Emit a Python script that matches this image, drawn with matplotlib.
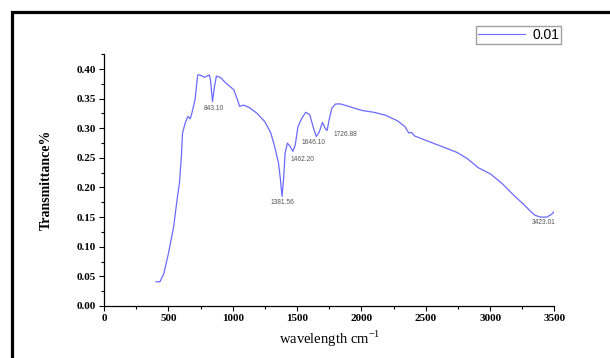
import matplotlib
matplotlib.use("Agg")
import matplotlib.pyplot as plt
from matplotlib.patches import Rectangle
from matplotlib.ticker import MultipleLocator

wavenumber = [405, 435, 465, 501, 541, 571, 586, 601, 610, 631, 652, 670, 682, 707, 728,
              743, 782, 818, 827, 843, 858, 873, 903, 948, 1009, 1054, 1084, 1129, 1190,
              1250, 1296, 1326, 1356, 1371, 1383, 1395, 1407, 1425, 1446, 1468, 1486, 1507,
              1537, 1567, 1598, 1628, 1649, 1673, 1697, 1718, 1733, 1749, 1770, 1800, 1839,
              1915, 2005, 2096, 2186, 2277, 2337, 2368, 2389, 2413, 2519, 2639, 2745, 2821,
              2911, 3002, 3092, 3183, 3258, 3304, 3349, 3394, 3440, 3479, 3500]
transmittance = [0.041, 0.041, 0.055, 0.089, 0.134, 0.185, 0.207, 0.252, 0.292, 0.309,
                 0.320, 0.316, 0.325, 0.348, 0.390, 0.390, 0.386, 0.390, 0.382, 0.345,
                 0.370, 0.388, 0.386, 0.376, 0.365, 0.337, 0.339, 0.335, 0.325, 0.311,
                 0.292, 0.269, 0.241, 0.213, 0.185, 0.213, 0.258, 0.275, 0.269, 0.261,
                 0.272, 0.303, 0.317, 0.327, 0.323, 0.300, 0.286, 0.294, 0.310, 0.300,
                 0.296, 0.314, 0.334, 0.341, 0.341, 0.336, 0.330, 0.327, 0.322, 0.313,
                 0.303, 0.292, 0.293, 0.287, 0.278, 0.268, 0.259, 0.249, 0.233, 0.223,
                 0.207, 0.187, 0.172, 0.162, 0.153, 0.150, 0.150, 0.155, 0.160]

peak_labels = ["843.10", "1381.56", "1462.20", "1646.10", "1726.88", "3423.01"]
peak_label_x = [852, 1386, 1540, 1628, 1872, 3418]
peak_label_y = [0.334, 0.175, 0.248, 0.276, 0.289, 0.141]

series_name = "0.01"
line_color = "#6a6aff"

fig = plt.figure(figsize=(6.10, 3.58), dpi=100)
ax = fig.add_axes([0.1705, 0.1453, 0.7385, 0.7033])

ax.plot(wavenumber, transmittance, color=line_color, lw=0.9, label=series_name)

for t, x, y in zip(peak_labels, peak_label_x, peak_label_y):
    ax.text(x, y, t, fontsize=4.8, color="#555555", ha="center", va="center",
            family="Liberation Sans")

ax.set_xlim(0, 3500)
ax.set_ylim(0, 0.425)
ax.xaxis.set_major_locator(MultipleLocator(500))
ax.xaxis.set_minor_locator(MultipleLocator(250))
ax.yaxis.set_major_locator(MultipleLocator(0.05))
ax.yaxis.set_minor_locator(MultipleLocator(0.025))
ax.set_yticks([0, 0.05, 0.10, 0.15, 0.20, 0.25, 0.30, 0.35, 0.40])
ax.set_yticklabels(["0.00", "0.05", "0.10", "0.15", "0.20", "0.25", "0.30", "0.35", "0.40"])

for s in ["top", "right"]:
    ax.spines[s].set_visible(False)
for s in ["left", "bottom"]:
    ax.spines[s].set_linewidth(0.9)

ax.tick_params(axis="both", which="major", length=3.5, width=0.8, direction="out", pad=2.5)
ax.tick_params(axis="both", which="minor", length=2, width=0.8, direction="out")
for lab in ax.get_xticklabels() + ax.get_yticklabels():
    lab.set_family("Liberation Serif")
    lab.set_fontweight("bold")
    lab.set_fontsize(8)

ax.set_xlabel("wavelength cm$^{\\mathregular{-1}}$", family="Liberation Serif", fontsize=10.5,
              labelpad=4)
ax.set_ylabel("Transmittance%", family="Liberation Serif", fontweight="bold", fontsize=10,
              labelpad=17)

leg = fig.legend(loc="upper left", bbox_to_anchor=(476 / 610, 1 - 26 / 358),
                 frameon=True, fancybox=False, handlelength=3.4,
                 borderpad=0.15, handletextpad=0.5, borderaxespad=0,
                 prop={"family": "Liberation Sans", "size": 10})
leg.get_frame().set_edgecolor("#888888")
leg.get_frame().set_linewidth(1.0)
leg.get_lines()[0].set_linewidth(0.8)

frame = Rectangle((11.5 / 610, -0.2), 1.5, 1.2 - 11.5 / 358,
                  transform=fig.transFigure, fill=False, edgecolor="black", lw=2.3,
                  clip_on=False)
fig.patches.append(frame)

fig.savefig("out.png", dpi=100)
